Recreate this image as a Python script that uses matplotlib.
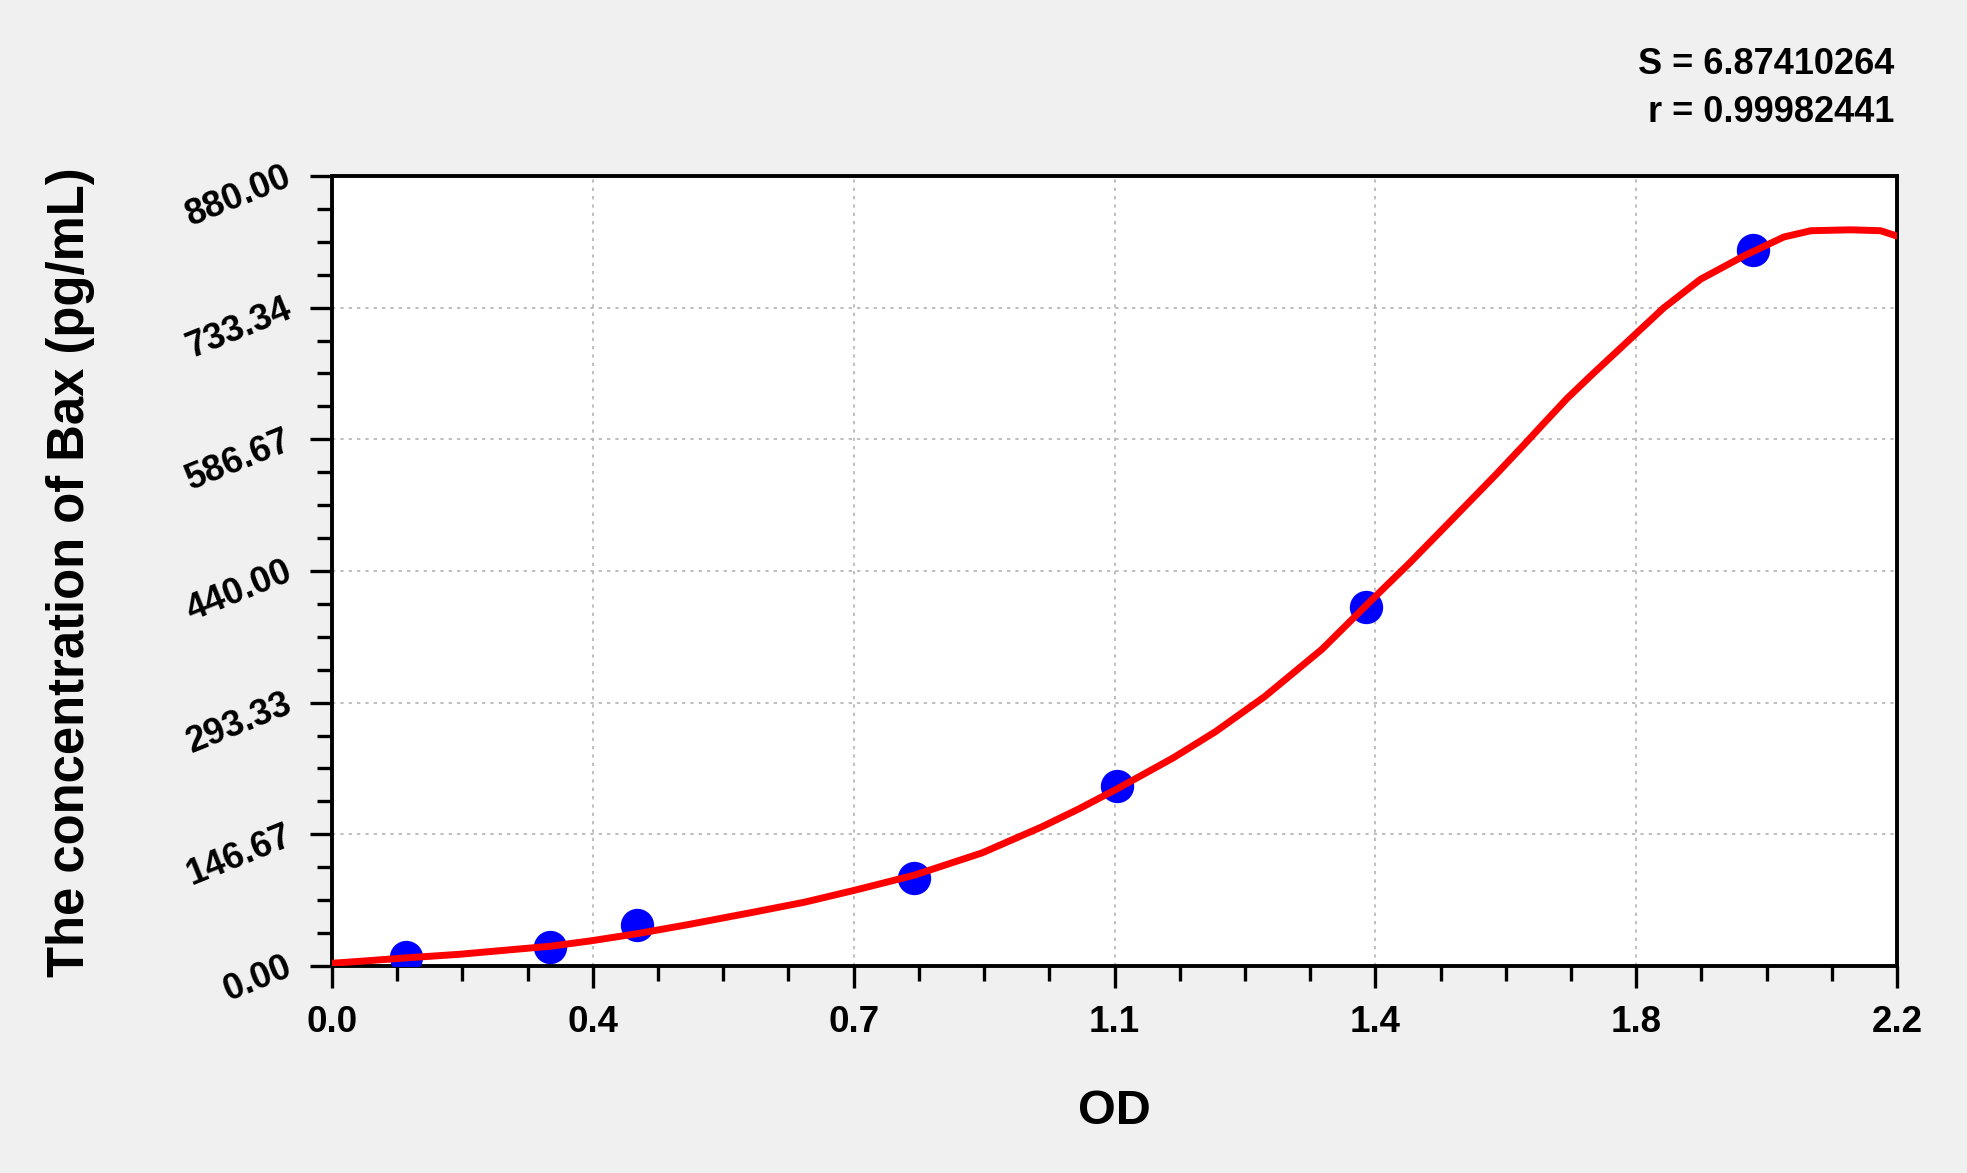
import numpy as np
import matplotlib
matplotlib.use("Agg")
import matplotlib.pyplot as plt
from matplotlib.ticker import MultipleLocator

plt.rcParams['font.family'] = ['Liberation Sans', 'DejaVu Sans']
plt.rcParams['font.weight'] = 'bold'

# standard points (OD, concentration)
od_points = [0.104, 0.307, 0.429, 0.818, 1.103, 1.453, 1.997]
conc_points = [10, 21, 46, 98, 200, 400, 798]

# fitted curve
curve_od = [0.0, 0.036, 0.104, 0.179, 0.307, 0.364, 0.429, 0.500, 0.593, 0.664,
            0.733, 0.818, 0.914, 0.998, 1.050, 1.103, 1.183, 1.242, 1.311, 1.392,
            1.453, 1.515, 1.562, 1.605, 1.637, 1.675, 1.703, 1.736, 1.773, 1.811,
            1.872, 1.924, 1.985, 2.041, 2.079, 2.135, 2.177, 2.200]
curve_conc = [3, 5, 9, 13, 22, 28, 36, 46, 60, 71,
              84, 101, 126, 155, 175, 197, 232, 261, 300, 353,
              401, 449, 487, 522, 548, 580, 604, 632, 660, 688,
              733, 765, 791, 812, 819, 820, 819, 813]

x_ticklabels = ["0.0", "0.4", "0.7", "1.1", "1.4", "1.8", "2.2"]
y_ticklabels = ["0.00", "146.67", "293.33", "440.00", "586.67", "733.34", "880.00"]

S_value = "6.87410264"
r_value = "0.99982441"


def main():
    fig = plt.figure(figsize=(19.67, 11.73), dpi=100, facecolor='#f0f0f0')
    left, right, bottom, top = 0.1688, 0.9644, 0.1765, 0.850
    ax = fig.add_axes([left, bottom, right - left, top - bottom])
    ax.set_facecolor('white')

    ax.plot(od_points, conc_points, 'o', color='#0000ff', markersize=24,
            markeredgewidth=0, zorder=3)
    ax.plot(curve_od, curve_conc, '-', color='#ff0000', linewidth=5,
            zorder=4, solid_capstyle='round')

    ax.set_xlim(0, 2.2)
    ax.set_ylim(0, 880)

    xt = np.linspace(0, 2.2, len(x_ticklabels))
    yt = np.linspace(0, 880, len(y_ticklabels))
    ax.set_xticks(xt)
    ax.set_xticklabels(x_ticklabels, fontsize=26.5, fontweight='bold')
    ax.set_yticks(yt)
    ax.set_yticklabels(y_ticklabels, fontsize=26, fontweight='bold',
                       rotation=22, rotation_mode='anchor', ha='right', va='center')
    ax.xaxis.set_minor_locator(MultipleLocator(2.2 / 24))
    ax.yaxis.set_minor_locator(MultipleLocator(880 / 24))

    ax.tick_params(which='major', direction='out', length=16, width=2.4)
    ax.tick_params(which='minor', direction='out', length=11, width=2.4)
    ax.tick_params(axis='x', which='major', pad=12)
    ax.tick_params(axis='y', which='major', pad=14)

    for sp in ax.spines.values():
        sp.set_linewidth(2.8)
        sp.set_color('black')

    ax.grid(True, which='major', color='#b4b4b4', linestyle=(0, (2, 3)), linewidth=1.2)
    ax.set_axisbelow(True)

    fig.text((left + right) / 2, 0.0524, 'OD', fontsize=35, fontweight='bold',
             ha='center', va='center')
    fig.text(0.0358, 0.5124, 'The concentration of Bax (pg/mL)', fontsize=36.5,
             fontweight='bold', rotation=90, ha='center', va='center')

    fig.text(0.963, 0.9446, 'S = ' + S_value, fontsize=26, fontweight='bold',
             ha='right', va='center')
    fig.text(0.963, 0.9037, 'r = ' + r_value, fontsize=26, fontweight='bold',
             ha='right', va='center')

    fig.savefig('out.png', dpi=100, facecolor=fig.get_facecolor())


if __name__ == "__main__":
    main()
